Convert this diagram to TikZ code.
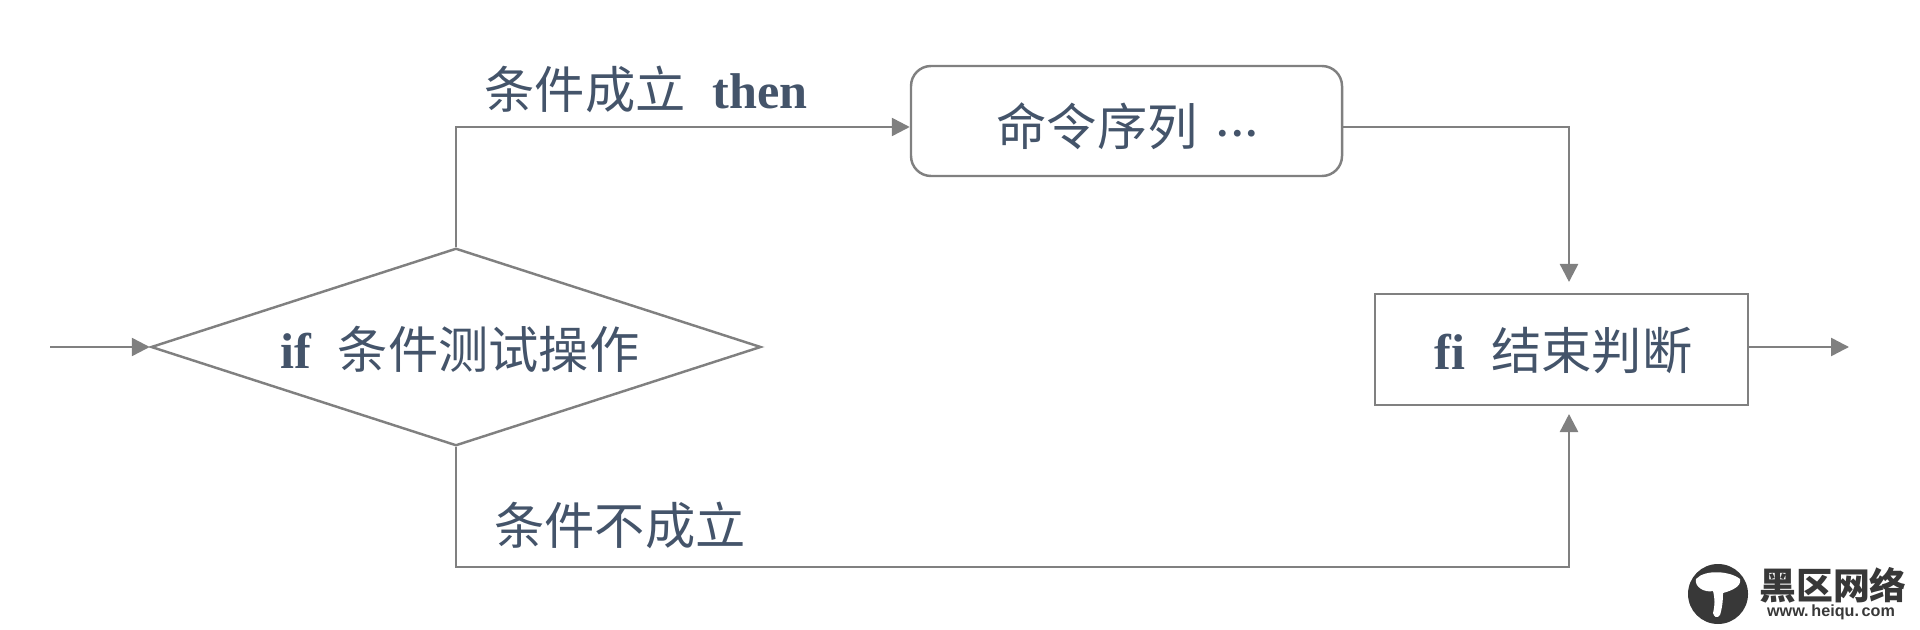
\documentclass[tikz,border=0pt]{standalone}
\usepackage{fontspec}
\setmainfont{Liberation Serif}
\setsansfont{Liberation Sans}
\newfontfamily\cjk{Noto Sans CJK SC}
\usetikzlibrary{arrows.meta,shapes.geometric}
\definecolor{linegray}{HTML}{808080}
\definecolor{textblue}{HTML}{44546A}
\tikzset{
  txt/.style={text=textblue,font=\fontsize{14.3}{16}\selectfont,inner sep=0pt},
  box/.style={draw=linegray,line width=0.7pt,minimum width=#1,inner sep=0pt},
  flow/.style={draw=linegray,line width=0.7pt,-{Triangle[length=0.18cm,width=0.18cm]}},
}
\begin{document}
\begin{tikzpicture}
  \useasboundingbox (0,0) rectangle (19.2,6.29);

  \node[box=6.1cm,diamond,aspect=3.09,minimum height=1.975cm] (test) at (4.56,2.82) {};
  \node[box=4.31cm,rectangle,rounded corners=0.2cm,minimum height=1.1cm] (cmds) at (11.265,5.08) {};
  \node[box=3.73cm,rectangle,minimum height=1.11cm] (fi) at (15.615,2.795) {};

  \node[txt] (testlabel) at (4.60,2.80) {\textbf{if}\hspace{0.26cm}{\cjk 条件测试操作}};
  \node[txt] (cmdslabel) at (11.27,5.03) {{\cjk 命令序列}\hspace{0.2cm}\raisebox{0.09cm}{\fontsize{12}{12}\selectfont\textbf{.\hspace{0.04cm}.\hspace{0.04cm}.}}};
  \node[txt] (filabel) at (15.635,2.78) {\textbf{fi}\hspace{0.26cm}{\cjk 结束判断}};
  \node[txt] (thenlabel) at (6.46,5.40) {{\cjk 条件成立}\hspace{0.27cm}\textbf{then}};
  \node[txt] (elselabel) at (6.20,1.04) {\cjk 条件不成立};

  % free ends of the connectors
  \coordinate (start) at (0.50,2.82);
  \coordinate (stop) at (18.49,2.82);
  \coordinate (fitop) at (15.69,3.47);
  \coordinate (fibot) at (15.69,2.15);
  \coordinate (corner) at (15.69,0.62);

  \draw[flow] (start) -- (test.west);
  \draw[flow] (test.north) |- ([yshift=-0.06cm]cmds.west);
  \draw[flow] ([yshift=-0.06cm]cmds.east) -| (fitop);
  \draw[flow] (test.south) |- (corner) -- (fibot);
  \draw[flow] (fi.east |- stop) -- (stop);

  % site mark
  \node[circle,fill=black!78,minimum size=0.6cm,inner sep=0pt] (logo) at (17.18,0.35) {};
  \fill[white] (16.96,0.50) .. controls (17.05,0.60) and (17.30,0.58) .. (17.40,0.50)
    .. controls (17.42,0.42) and (17.30,0.38) .. (17.23,0.36)
    .. controls (17.23,0.28) and (17.22,0.20) .. (17.20,0.14)
    .. controls (17.17,0.10) and (17.14,0.12) .. (17.13,0.16)
    .. controls (17.15,0.24) and (17.15,0.30) .. (17.13,0.38)
    .. controls (17.05,0.36) and (16.94,0.42) .. (16.96,0.50);
  \node[inner sep=0pt,text=black!78,font=\fontsize{10.5}{12}\selectfont\cjk\bfseries] (sitename) at (18.33,0.44) {黑区网络};
  \node[inner sep=0pt,text=black!78,font=\sffamily\bfseries\fontsize{4.6}{6}\selectfont] (siteurl) at (18.31,0.17) {www.\,heiqu.\,com};
\end{tikzpicture}
\end{document}
